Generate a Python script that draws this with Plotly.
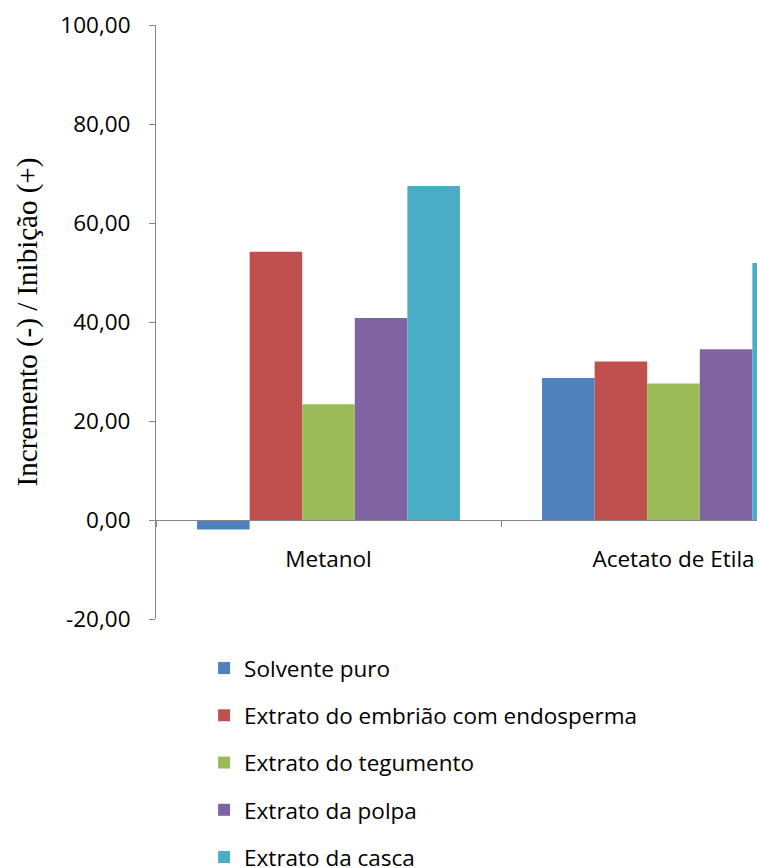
import plotly.graph_objects as go

solventes = ["Metanol", "Acetato de Etila"]
series_names = [
    "Solvente puro",
    "Extrato do embrião com endosperma",
    "Extrato do tegumento",
    "Extrato da polpa",
    "Extrato da casca",
]
series_values = [
    [-1.9, 28.7],
    [54.2, 32.0],
    [23.4, 27.6],
    [40.8, 34.5],
    [67.5, 51.9],
]
series_colors = ["#4F81BD", "#C0504D", "#9BBB59", "#8064A2", "#4BACC6"]
y_ticks = [-20, 0, 20, 40, 60, 80, 100]
y_tick_text = [f"{v:.2f}".replace(".", ",") for v in y_ticks]

fig = go.Figure()
for i, (name, vals, color) in enumerate(zip(series_names, series_values, series_colors)):
    fig.add_trace(go.Bar(
        x=solventes, y=vals, name=name,
        marker=dict(color=color, line=dict(width=0)),
        legendgroup=f"g{i}",
    ))

axis_gray = "#868686"
label_font = dict(family="Open Sans", size=22.5, color="#000000")
fig.update_layout(
    width=757, height=868,
    margin=dict(l=156, r=0, t=25, b=249, autoexpand=False),
    paper_bgcolor="white", plot_bgcolor="white",
    barmode="group", bargap=0.238, bargroupgap=0,
    showlegend=True,
    legend=dict(
        x=0.08, y=-0.047, xanchor="left", yanchor="top",
        font=label_font,
        tracegroupgap=15, traceorder="grouped",
        bgcolor="rgba(0,0,0,0)",
    ),
    xaxis=dict(
        type="category", range=[-0.5, 1.242],
        anchor="free", position=1/6,
        showline=True, linecolor=axis_gray, linewidth=1,
        ticks="outside", tickson="boundaries", ticklen=6, tickcolor=axis_gray,
        ticklabelstandoff=19,
        tickfont=label_font,
        showgrid=False, zeroline=False,
    ),
    yaxis=dict(
        range=[-20, 100], tickvals=y_ticks, ticktext=y_tick_text,
        showline=True, linecolor=axis_gray, linewidth=1,
        ticks="outside", ticklen=6, tickcolor=axis_gray,
        ticklabelstandoff=14,
        tickfont=label_font,
        showgrid=False, zeroline=False,
        title=dict(text="Incremento (-) / Inibição (+)",
                   font=dict(family="Liberation Serif", size=29, color="#000000"),
                   standoff=14),
    ),
)

fig.write_html("out.html")
